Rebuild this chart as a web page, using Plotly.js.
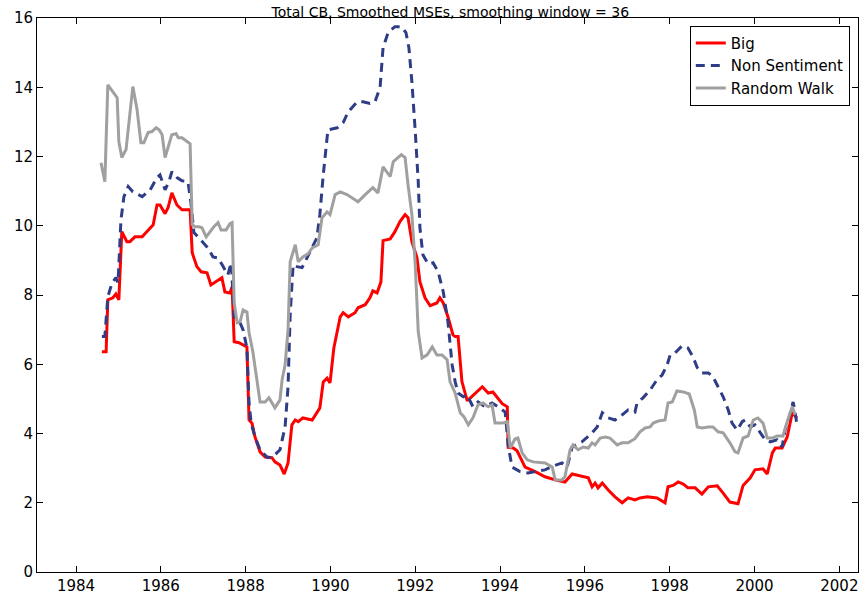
<!DOCTYPE html>
<html>
<head>
<meta charset="utf-8">
<script src="https://cdn.plot.ly/plotly-3.0.1.min.js"></script>
<style>html,body{margin:0;padding:0;background:#fff;}#chart{width:861px;height:597px;}</style>
</head>
<body>
<div id="chart"></div>
<script>
// Big (red)
var bigX = [1984.61,1984.71,1984.75,1984.87,1984.94,1985.01,1985.08,1985.20,1985.27,1985.39,1985.56,1985.70,1985.82,1985.91,1985.98,1986.10,1986.17,1986.26,1986.38,1986.50,1986.69,1986.74,1986.85,1986.95,1987.09,1987.18,1987.35,1987.44,1987.51,1987.63,1987.68,1987.73,1987.84,1988.03,1988.08,1988.15,1988.22,1988.34,1988.46,1988.62,1988.69,1988.81,1988.91,1989.00,1989.09,1989.17,1989.24,1989.35,1989.57,1989.68,1989.75,1989.83,1989.92,1989.99,1990.08,1990.23,1990.30,1990.42,1990.58,1990.65,1990.82,1990.93,1991.00,1991.10,1991.19,1991.24,1991.41,1991.52,1991.64,1991.76,1991.83,1991.92,1992.04,1992.11,1992.23,1992.35,1992.51,1992.58,1992.66,1992.77,1992.89,1992.94,1993.01,1993.10,1993.22,1993.25,1993.58,1993.72,1993.83,1994.05,1994.17,1994.19,1994.31,1994.40,1994.59,1994.83,1995.06,1995.30,1995.53,1995.70,1995.93,1996.08,1996.17,1996.24,1996.31,1996.41,1996.55,1996.71,1996.88,1997.02,1997.18,1997.30,1997.47,1997.70,1997.89,1997.96,1998.08,1998.20,1998.32,1998.43,1998.60,1998.76,1998.91,1999.12,1999.26,1999.42,1999.61,1999.73,1999.90,2000.01,2000.20,2000.30,2000.42,2000.49,2000.65,2000.77,2000.89,2001.00];
var bigY = [6.36,6.36,7.86,7.92,8.03,7.86,9.83,9.54,9.54,9.68,9.68,9.88,10.03,10.6,10.6,10.35,10.52,10.95,10.6,10.46,10.46,9.22,8.82,8.67,8.64,8.29,8.44,8.5,8.09,8.06,8.24,6.65,6.62,6.5,4.39,4.3,3.9,3.47,3.32,3.3,3.18,3.09,2.83,3.15,4.25,4.39,4.34,4.45,4.39,4.6,4.74,5.49,5.6,5.46,6.47,7.37,7.49,7.37,7.49,7.63,7.72,7.92,8.12,8.06,8.38,9.57,9.62,9.83,10.12,10.32,10.23,9.54,9.08,8.38,7.92,7.69,7.77,7.92,7.77,7.37,6.85,6.8,6.8,5.5,4.97,4.97,5.35,5.17,5.2,4.86,4.77,3.6,3.58,3.5,3.03,2.9,2.75,2.66,2.6,2.83,2.75,2.72,2.46,2.57,2.43,2.57,2.37,2.17,2.0,2.14,2.08,2.14,2.17,2.14,2.0,2.46,2.5,2.6,2.54,2.43,2.43,2.25,2.46,2.49,2.28,2.02,1.97,2.5,2.72,2.95,2.98,2.83,3.44,3.58,3.58,3.9,4.6,4.45];

// Non Sentiment (blue dashed)
var nsX = [1984.61,1984.68,1984.75,1984.85,1984.94,1984.99,1985.06,1985.13,1985.23,1985.34,1985.56,1985.75,1985.91,1985.98,1986.10,1986.19,1986.26,1986.38,1986.50,1986.64,1986.71,1986.78,1986.90,1987.00,1987.11,1987.23,1987.35,1987.47,1987.58,1987.66,1987.73,1987.84,1987.94,1988.03,1988.08,1988.13,1988.22,1988.34,1988.50,1988.62,1988.69,1988.81,1988.93,1989.00,1989.05,1989.12,1989.21,1989.33,1989.45,1989.57,1989.68,1989.75,1989.83,1989.94,1990.16,1990.30,1990.42,1990.63,1990.77,1990.93,1991.05,1991.17,1991.24,1991.36,1991.52,1991.67,1991.78,1991.85,1991.92,1992.00,1992.07,1992.11,1992.18,1992.30,1992.42,1992.54,1992.66,1992.77,1992.87,1992.94,1993.01,1993.13,1993.22,1993.36,1993.48,1993.65,1993.81,1993.95,1994.12,1994.19,1994.28,1994.47,1994.66,1994.90,1995.06,1995.25,1995.46,1995.58,1995.70,1995.93,1996.17,1996.29,1996.41,1996.55,1996.71,1996.88,1997.02,1997.18,1997.23,1997.37,1997.54,1997.70,1997.82,1997.94,1998.01,1998.13,1998.29,1998.43,1998.55,1998.65,1998.76,1998.91,1999.02,1999.14,1999.26,1999.38,1999.47,1999.59,1999.71,1999.78,1999.90,2000.01,2000.13,2000.25,2000.37,2000.53,2000.65,2000.72,2000.82,2000.91,2000.96,2001.00];
var nsY = [6.8,6.8,7.95,8.35,8.5,8.35,10.17,10.84,11.13,10.98,10.84,11.04,11.39,11.47,11.04,11.27,11.56,11.39,11.3,11.27,10.66,9.8,9.65,9.51,9.36,9.1,9.07,8.82,8.58,8.93,7.37,7.28,6.99,6.47,4.88,4.3,3.9,3.53,3.32,3.3,3.38,3.53,4.19,5.35,7.43,8.87,8.82,8.79,9.08,9.36,9.65,10.32,11.47,12.77,12.83,12.98,13.29,13.58,13.58,13.53,13.58,13.99,15.14,15.58,15.75,15.75,15.58,15.14,14.16,12.72,11.27,9.94,9.16,8.9,8.93,8.67,8.09,7.23,5.98,5.5,5.17,5.06,5.12,4.77,4.91,4.77,4.88,4.77,4.62,3.67,3.03,2.9,2.86,2.92,2.95,3.06,3.15,3.03,3.61,3.76,4.02,4.19,4.6,4.45,4.39,4.54,4.68,4.62,4.88,5.03,5.26,5.55,5.69,5.98,6.27,6.33,6.53,6.47,6.21,5.9,5.75,5.75,5.64,5.35,5.06,4.68,4.3,4.1,4.34,4.39,4.19,4.25,4.02,3.82,3.76,3.82,3.61,4.1,4.48,4.91,4.6,4.25];

// Random Walk (gray)
var rwX = [1984.59,1984.68,1984.75,1984.87,1984.97,1985.01,1985.08,1985.18,1985.25,1985.34,1985.44,1985.53,1985.60,1985.70,1985.79,1985.89,1985.96,1986.03,1986.10,1986.19,1986.26,1986.36,1986.41,1986.50,1986.62,1986.69,1986.74,1986.81,1986.90,1986.97,1987.07,1987.16,1987.25,1987.35,1987.42,1987.54,1987.63,1987.68,1987.73,1987.80,1987.87,1987.94,1988.03,1988.08,1988.17,1988.34,1988.46,1988.55,1988.69,1988.81,1988.86,1988.93,1989.00,1989.05,1989.17,1989.24,1989.35,1989.47,1989.57,1989.71,1989.80,1989.92,1989.99,1990.11,1990.23,1990.39,1990.51,1990.65,1990.82,1991.00,1991.12,1991.24,1991.41,1991.48,1991.67,1991.76,1991.83,1991.92,1992.00,1992.07,1992.16,1992.28,1992.40,1992.51,1992.63,1992.75,1992.82,1992.94,1993.06,1993.15,1993.25,1993.36,1993.48,1993.60,1993.72,1993.81,1993.88,1994.05,1994.17,1994.24,1994.35,1994.42,1994.52,1994.64,1994.78,1995.06,1995.23,1995.30,1995.46,1995.53,1995.65,1995.72,1995.84,1995.96,1996.08,1996.17,1996.24,1996.36,1996.48,1996.59,1996.76,1996.88,1997.02,1997.18,1997.30,1997.42,1997.54,1997.61,1997.73,1997.89,1997.96,1998.06,1998.17,1998.32,1998.46,1998.58,1998.65,1998.76,1998.91,1999.02,1999.14,1999.26,1999.42,1999.54,1999.61,1999.73,1999.85,1999.97,2000.08,2000.20,2000.30,2000.42,2000.53,2000.67,2000.77,2000.89,2000.96];
var rwY = [11.82,11.27,14.07,13.87,13.7,12.43,11.97,12.2,12.98,14.02,13.35,12.4,12.4,12.69,12.72,12.83,12.77,12.63,11.97,12.34,12.63,12.66,12.54,12.54,12.43,12.37,10.03,9.97,9.97,9.94,9.68,9.83,9.97,10.09,9.88,9.88,10.06,10.09,7.77,7.2,7.23,7.57,7.51,6.91,6.36,4.91,4.91,5.03,4.74,4.97,5.55,5.98,6.99,8.96,9.45,8.96,9.1,9.19,9.36,9.45,10.23,10.4,10.32,10.9,10.98,10.9,10.81,10.69,10.9,11.1,10.95,11.7,11.42,11.85,12.05,11.97,11.18,10.32,8.87,6.94,6.18,6.27,6.5,6.27,6.27,6.13,5.49,5.17,4.6,4.48,4.25,4.45,4.83,4.88,4.77,4.83,4.3,4.3,4.34,3.58,3.84,3.87,3.44,3.24,3.18,3.15,3.03,2.66,2.66,2.75,3.53,3.67,3.53,3.61,3.58,3.73,3.67,3.87,3.9,3.87,3.67,3.73,3.73,3.85,4.05,4.16,4.19,4.3,4.36,4.39,4.88,4.91,5.23,5.2,5.14,4.68,4.19,4.16,4.19,4.19,4.05,4.02,3.73,3.47,3.44,3.87,3.93,4.39,4.45,4.3,3.87,3.87,3.93,3.93,4.34,4.77,4.54];

var xTicks = [1984,1986,1988,1990,1992,1994,1996,1998,2000,2002];
var yTicks = [0,2,4,6,8,10,12,14,16];
var titleText = 'Total CB, Smoothed MSEs, smoothing window = 36';

var traces = [
  {x: bigX, y: bigY, name: 'Big', type: 'scatter', mode: 'lines',
   line: {color: '#ff0000', width: 3}},
  {x: nsX, y: nsY, name: 'Non Sentiment', type: 'scatter', mode: 'lines',
   line: {color: '#2e3d86', width: 3, dash: '9px,6px'}},
  {x: rwX, y: rwY, name: 'Random Walk', type: 'scatter', mode: 'lines',
   line: {color: '#a0a0a0', width: 3}}
];

var fam = '"DejaVu Sans", "Liberation Sans", Arial, sans-serif';
var layout = {
  width: 861, height: 597,
  margin: {l: 37, r: 3, t: 18, b: 25, pad: 0},
  paper_bgcolor: '#ffffff', plot_bgcolor: '#ffffff',
  font: {family: fam, size: 15, color: '#000'},
  title: {text: titleText, font: {family: fam, size: 14, color: '#000'}, x: 0.523, xanchor: 'center',
          y: 0.972, yref: 'container', yanchor: 'bottom', pad: {t: 0, b: 0}},
  showlegend: true,
  legend: {x: 0.990, xanchor: 'right', y: 0.986, yanchor: 'top',
           bgcolor: '#ffffff', bordercolor: '#000', borderwidth: 1,
           font: {family: fam, size: 15, color: '#000'}, tracegroupgap: 0, itemwidth: 30},
  xaxis: {range: [1983.08, 2002.44], tickvals: xTicks, ticktext: xTicks.map(String),
          ticks: 'inside', ticklen: 6, tickcolor: '#000', showline: true, linecolor: '#000',
          linewidth: 1, mirror: 'ticks', showgrid: false, zeroline: false,
          tickfont: {family: fam, size: 15, color: '#000'}},
  yaxis: {range: [0, 16], tickvals: yTicks, ticktext: yTicks.map(String),
          ticks: 'inside', ticklen: 6, tickcolor: '#000', showline: true, linecolor: '#000',
          linewidth: 1, mirror: 'ticks', showgrid: false, zeroline: false,
          tickfont: {family: fam, size: 15, color: '#000'}}
};

Plotly.newPlot('chart', traces, layout, {staticPlot: true, displayModeBar: false});
</script>
</body>
</html>
